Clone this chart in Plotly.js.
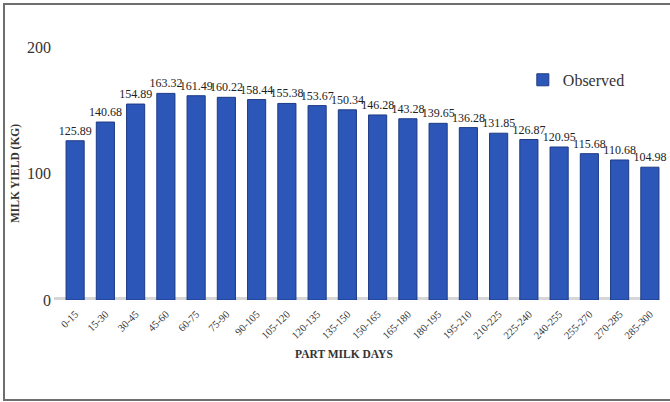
<!DOCTYPE html>
<html>
<head>
<meta charset="utf-8">
<script src="https://cdn.plot.ly/plotly-3.0.1.min.js"></script>
<style>
html,body{margin:0;padding:0;background:#fff;}
#chart{width:670px;height:402px;position:absolute;left:0;top:0;}
#frame{position:absolute;left:3px;top:3px;width:675px;height:394px;border:2px solid #6e6e6e;pointer-events:none;}
</style>
</head>
<body>
<div id="chart"></div>
<div id="frame"></div>
<script>
const categories = ["0-15","15-30","30-45","45-60","60-75","75-90","90-105","105-120","120-135","135-150","150-165","165-180","180-195","195-210","210-225","225-240","240-255","255-270","270-285","285-300"];
const observed = [125.89,140.68,154.89,163.32,161.49,160.22,158.44,155.38,153.67,150.34,146.28,143.28,139.65,136.28,131.85,126.87,120.95,115.68,110.68,104.98];
const yTicks = [0,100,200];

const serif = "Liberation Serif, Times New Roman, serif";

const trace = {
  type: "bar",
  x: categories,
  y: observed,
  name: "Observed",
  marker: {color: "#2c57b9", line: {color: "#1d3a85", width: 1}},
  text: observed.map(v => v.toFixed(2)),
  textposition: "outside",
  constraintext: "none",
  textfont: {family: serif, size: 12, color: "#222"},
  cliponaxis: false,
  showlegend: true
};

const layout = {
  width: 670, height: 402,
  margin: {l: 60, r: 5, t: 47, b: 102},
  paper_bgcolor: "#fff", plot_bgcolor: "#fff",
  bargap: 0.4,
  showlegend: true,
  legend: {x: 0.765, y: 0.87, xanchor: "left", yanchor: "middle", font: {family: serif, size: 16, color: "#333"}, bgcolor: "rgba(0,0,0,0)"},
  xaxis: {
    type: "category",
    tickangle: -45,
    tickfont: {family: serif, size: 10.5, color: "#333"},
    ticklabelstandoff: 5,
    showgrid: false, zeroline: false, showline: false, ticks: ""
  },
  yaxis: {
    range: [0, 200],
    tickvals: yTicks,
    tickfont: {family: serif, size: 16, color: "#333"},
    showgrid: false, zeroline: false, showline: false, ticks: "",
    ticklabelstandoff: 8,
    title: {text: "<b>MILK YIELD (KG)</b>", font: {family: serif, size: 11.5, color: "#333"}, standoff: 4}
  },
  shapes: [
    {type: "line", xref: "paper", yref: "y", x0: -0.01, x1: 0.99, y0: 0, y1: 0, line: {color: "#d6d6d6", width: 6}, layer: "below"}
  ],
  annotations: [
    {text: "<b>PART MILK DAYS</b>", xref: "paper", yref: "paper", x: 0.469, y: -0.215, xanchor: "center", yanchor: "middle", showarrow: false, font: {family: serif, size: 11.5, color: "#333"}}
  ]
};

Plotly.newPlot("chart", [trace], layout, {displayModeBar: false, staticPlot: true});
</script>
</body>
</html>
